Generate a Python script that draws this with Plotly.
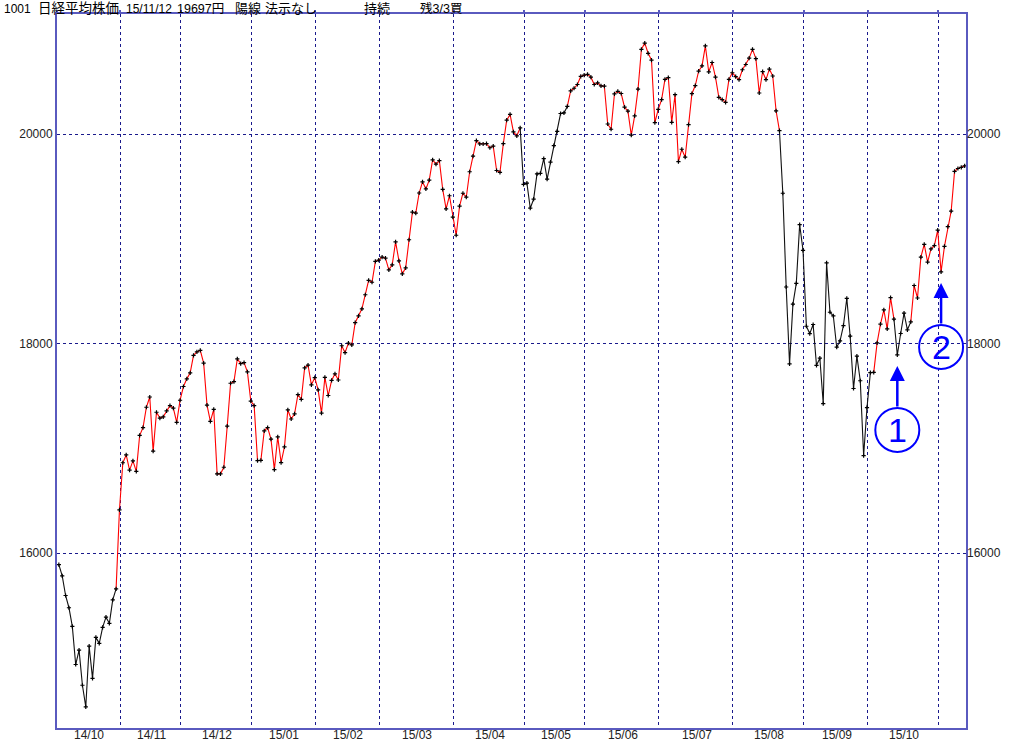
import plotly.graph_objects as go

# ---------------- data ----------------
month_keys = ["2014-10", "2014-11", "2014-12", "2015-01", "2015-02", "2015-03", "2015-04",
              "2015-05", "2015-06", "2015-07", "2015-08", "2015-09", "2015-10", "2015-11"]
month_labels = ["14/10", "14/11", "14/12", "15/01", "15/02", "15/03", "15/04",
                "15/05", "15/06", "15/07", "15/08", "15/09", "15/10", ""]
month_days = [
    [6, 7, 8, 9, 10, 14, 15, 16, 17, 20, 21, 22, 23, 24, 27, 28, 29, 30, 31],
    [4, 5, 6, 7, 10, 11, 12, 13, 14, 17, 18, 19, 20, 21, 25, 26, 27, 28],
    [1, 2, 3, 4, 5, 8, 9, 10, 11, 12, 15, 16, 17, 18, 19, 22, 24, 25, 26, 29, 30],
    [5, 6, 7, 8, 9, 13, 14, 15, 16, 19, 20, 21, 22, 23, 26, 27, 28, 29, 30],
    [2, 3, 4, 5, 6, 9, 10, 12, 13, 16, 17, 18, 19, 20, 23, 24, 25, 26, 27],
    [2, 3, 4, 5, 6, 9, 10, 11, 12, 13, 16, 17, 18, 19, 20, 23, 24, 25, 26, 27, 30, 31],
    [1, 2, 3, 6, 7, 8, 9, 10, 13, 14, 15, 16, 17, 20, 21, 22, 23, 24, 27, 28, 30],
    [1, 7, 8, 11, 12, 13, 14, 15, 18, 19, 20, 21, 22, 25, 26, 27, 28, 29],
    [1, 2, 3, 4, 5, 8, 9, 10, 11, 12, 15, 16, 17, 18, 19, 22, 23, 24, 25, 26, 29, 30],
    [1, 2, 3, 6, 7, 8, 9, 10, 13, 14, 15, 16, 17, 21, 22, 23, 24, 27, 28, 29, 30, 31],
    [3, 4, 5, 6, 7, 10, 11, 12, 13, 14, 17, 18, 19, 20, 21, 24, 25, 26, 27, 28, 31],
    [1, 2, 3, 4, 7, 8, 9, 10, 11, 14, 15, 16, 17, 18, 24, 25, 28, 29, 30],
    [1, 2, 5, 6, 7, 8, 9, 13, 14, 15, 16, 19, 20, 21, 22, 23, 26, 27, 28, 29, 30],
    [2, 4, 5, 6, 9, 10, 11, 12],
]
closes = [
    15890, 15783, 15595, 15478, 15300, 14936, 15073, 14738, 14532, 15111, 14804, 15195, 15138, 15291,
    15388, 15329, 15553, 15658, 16413,
    16862, 16937, 16792, 16880, 16780, 17124, 17197, 17392, 17490, 16973, 17344, 17288, 17300, 17357,
    17407, 17383, 17248, 17459,
    17590, 17663, 17720, 17887, 17920, 17935, 17813, 17412, 17257, 17371, 16756, 16756, 16819, 17211,
    17621, 17636, 17854, 17809, 17818, 17730, 17451,
    17408, 16883, 16885, 17167, 17198, 17088, 16796, 17109, 16864, 17014, 17366, 17280, 17329, 17512,
    17468, 17768, 17795, 17606, 17674,
    17558, 17336, 17678, 17504, 17648, 17711, 17652, 17979, 17913, 18004, 17987, 18199, 18264, 18332,
    18466, 18603, 18585, 18785, 18797,
    18826, 18815, 18703, 18751, 18971, 18790, 18665, 18723, 18991, 19254, 19246, 19437, 19544, 19476,
    19560, 19754, 19713, 19746, 19471, 19285, 19411, 19206,
    19034, 19312, 19435, 19397, 19640, 19789, 19937, 19907, 19905, 19908, 19869, 19885, 19652, 19634,
    19909, 20133, 20187, 20020, 19983, 20058, 19520,
    19531, 19292, 19379, 19620, 19624, 19765, 19570, 19732, 19890, 20026, 20196, 20202, 20264, 20413,
    20437, 20473, 20551, 20563,
    20569, 20543, 20473, 20488, 20460, 20457, 20096, 20046, 20383, 20407, 20387, 20257, 20219, 19990,
    20174, 20428, 20809, 20868, 20771, 20706, 20109, 20235,
    20329, 20522, 20539, 20112, 20376, 19737, 19855, 19779, 20089, 20385, 20463, 20600, 20650, 20841,
    20593, 20683, 20544, 20350, 20328, 20302, 20522, 20585,
    20548, 20520, 20614, 20664, 20724, 20808, 20720, 20392, 20595, 20519, 20620, 20554, 20222, 20033,
    19435, 18540, 17806, 18376, 18574, 19136, 18890,
    18165, 18095, 18182, 17792, 17860, 17427, 18770, 18299, 18264, 17965, 18026, 18171, 18432, 18070,
    17571, 17880, 17645, 16931, 17388,
    17722, 17725, 18006, 18186, 18322, 18141, 18438, 18234, 17891, 18096, 18291, 18131, 18207, 18554,
    18435, 18826, 18947, 18777, 18903, 18935, 19083,
    18684, 18927, 19116, 19265, 19643, 19671, 19682, 19697,
]
initial_state = "sell"
signal_dates = ["2014-10-31", "2015-04-30", "2015-05-25", "2015-08-21", "2015-10-05", "2015-10-14", "2015-10-21"]
signal_states = ["buy", "sell", "buy", "sell", "buy", "sell", "buy"]
y_ticks = [16000, 18000, 20000]
header_texts = ["1001", "日経平均株価", "15/11/12", "19697円", "陽線", "法示なし", "持続", "残3/3買"]
callout_labels = ["1", "2"]
callout_dates = ["2015-10-14", "2015-11-02"]

# ---------------- derived ----------------
dates = [f"{m}-{d:02d}" for m, days in zip(month_keys, month_days) for d in days]
n = len(dates)
idx = list(range(n))

state = []
cur = initial_state
sig = dict(zip(signal_dates, signal_states))
for d in dates:
    cur = sig.get(d, cur)
    state.append(cur)

month_first = []
month_last = []
pos = 0
for days in month_days:
    month_first.append(pos)
    month_last.append(pos + len(days) - 1)
    pos += len(days)

label_pos = [(a + b) / 2 for a, b, t in zip(month_first, month_last, month_labels) if t]
label_txt = [t for t in month_labels if t]
grid_x = [f - 0.8 for f in month_first[1:]]
x_range = [-0.55, n - 0.6]
y_range = [14330, 21146]

RED = "#ff0000"
BLACK = "#111111"
NAVY = "#1a1a8c"
FRAME = "#5a5abf"
BLUE = "#0000ff"

fig = go.Figure()

# colored line segments (grouped into runs)
j = 1
while j < n:
    col = RED if state[j] == "buy" else BLACK
    k = j
    while k + 1 < n and state[k + 1] == state[j]:
        k += 1
    fig.add_trace(go.Scatter(
        x=idx[j - 1:k + 1], y=closes[j - 1:k + 1], mode="lines",
        line=dict(color=col, width=1.1), hoverinfo="skip", showlegend=False))
    j = k + 1

# point markers
fig.add_trace(go.Scatter(
    x=idx, y=closes, mode="markers",
    marker=dict(symbol="cross-thin", size=3, line=dict(color="#000000", width=1.2)),
    text=dates, hovertemplate="%{text}: %{y}<extra></extra>", showlegend=False))

# dummy trace for the secondary axes (right labels / top ticks)
fig.add_trace(go.Scatter(x=[idx[0]], y=[closes[0]], xaxis="x2", yaxis="y2", mode="markers",
                         marker=dict(opacity=0), hoverinfo="skip", showlegend=False))

tick_font = dict(family="Liberation Sans, Arial, sans-serif", size=12, color="#222222")

fig.update_layout(
    width=1024, height=743,
    margin=dict(l=57, r=58, t=14, b=15, autoexpand=False),
    paper_bgcolor="white", plot_bgcolor="white",
    showlegend=False,
    xaxis=dict(
        range=x_range, showline=True, mirror=True, linecolor=FRAME, linewidth=2,
        showgrid=False, zeroline=False, tickmode="array", tickvals=label_pos,
        showticklabels=False, ticks="", automargin=False,
        minor=dict(tickmode="array", tickvals=grid_x, showgrid=True, gridcolor=NAVY,
                   gridwidth=1, griddash="3px,3px", ticks=""),
    ),
    yaxis=dict(
        range=y_range, showline=True, mirror=True, linecolor=FRAME, linewidth=2,
        showgrid=True, gridcolor=NAVY, gridwidth=1, griddash="3px,3px", zeroline=False,
        tickmode="array", tickvals=y_ticks, ticktext=[str(v) for v in y_ticks],
        ticks="", tickfont=tick_font, automargin=False,
    ),
    xaxis2=dict(
        overlaying="x", side="top", matches="x", range=x_range, anchor="y",
        tickmode="array", tickvals=[x_range[0]] + grid_x, ticks="outside", ticklen=3,
        tickcolor=FRAME, tickwidth=1.5, showticklabels=False, showgrid=False, showline=False,
        zeroline=False, automargin=False,
    ),
    yaxis2=dict(
        overlaying="y", side="right", matches="y", range=y_range, anchor="x",
        tickmode="array", tickvals=y_ticks, ticktext=[str(v) for v in y_ticks],
        ticks="", tickfont=tick_font, automargin=False,
        showgrid=False, showline=False, zeroline=False,
    ),
)

# month labels under the axis (at each month's middle trading day)
for xv, txt in zip(label_pos, label_txt):
    fig.add_annotation(
        x=xv, xref="x", yref="paper", y=(728 - 735) / 714, xanchor="center", yanchor="middle",
        showarrow=False, text=txt, font=tick_font)

# header texts
header_px = [2, 36, 124, 175, 233, 263, 362, 418]
header_sz = [12, 13.5, 12, 12.5, 13, 13, 13, 12.5]
for txt, px, sz in zip(header_texts, header_px, header_sz):
    fig.add_annotation(
        xref="paper", yref="paper", x=(px - 57) / 909, y=(728 - 8.5) / 714,
        xanchor="left", yanchor="middle", showarrow=False, text=txt,
        font=dict(family="Liberation Sans, Noto Sans CJK JP", size=sz, color="#000000"))

# call-outs: arrow + circled number
for lab, d in zip(callout_labels, callout_dates):
    i = dates.index(d)
    v = closes[i]
    fig.add_annotation(
        x=i, y=v, xref="x", yref="y", yshift=-11, showarrow=True,
        ax=0, ay=42, arrowhead=2, arrowsize=1.2, arrowwidth=2.5, arrowcolor=BLUE,
        standoff=0, text="")
    fig.add_shape(
        type="circle", xref="x", yref="y", xsizemode="pixel", ysizemode="pixel",
        xanchor=i, yanchor=v, x0=-22, x1=22, y0=-97, y1=-53,
        line=dict(color=BLUE, width=2), fillcolor="rgba(0,0,0,0)")
    fig.add_annotation(
        x=i, y=v, xref="x", yref="y", yshift=-75, showarrow=False, text=lab,
        font=dict(family="Liberation Sans, Arial, sans-serif", size=34, color=BLUE),
        xanchor="center", yanchor="middle")

fig.write_html("out.html", config={"displayModeBar": False},
               post_script="document.body.style.margin='0px';")
